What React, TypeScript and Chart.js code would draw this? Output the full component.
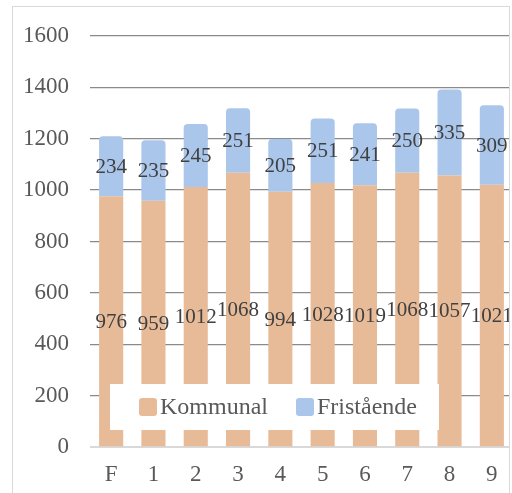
import React, { useEffect, useRef } from "react";
import { Chart, registerables } from "chart.js";

Chart.register(...registerables);

const categories = ["F", "1", "2", "3", "4", "5", "6", "7", "8", "9"];
const kommunal = [976, 959, 1012, 1068, 994, 1028, 1019, 1068, 1057, 1021];
const fristaende = [234, 235, 245, 251, 205, 251, 241, 250, 335, 309];
const seriesNames = ["Kommunal", "Fristående"];
const yTicks = { min: 0, max: 1600, step: 200 };

const FONT = '"Liberation Serif", "Times New Roman", serif';
const C_KOM = "#E8BB98";
const C_FRI = "#AAC6EA";

function roundRect(ctx: CanvasRenderingContext2D, x: number, y: number, w: number, h: number, r: number) {
  ctx.beginPath();
  ctx.moveTo(x + r, y);
  ctx.lineTo(x + w - r, y);
  ctx.quadraticCurveTo(x + w, y, x + w, y + r);
  ctx.lineTo(x + w, y + h - r);
  ctx.quadraticCurveTo(x + w, y + h, x + w - r, y + h);
  ctx.lineTo(x + r, y + h);
  ctx.quadraticCurveTo(x, y + h, x, y + h - r);
  ctx.lineTo(x, y + r);
  ctx.quadraticCurveTo(x, y, x + r, y);
  ctx.closePath();
}

const overlayPlugin = {
  id: "overlay",
  afterDatasetsDraw(chart: any) {
    const ctx: CanvasRenderingContext2D = chart.ctx;
    ctx.save();
    // legend box inside plot
    const lx = 110, ly = 384, lw = 329, lh = 46;
    ctx.fillStyle = "#ffffff";
    ctx.fillRect(lx, ly, lw, lh);
    ctx.font = `24px ${FONT}`;
    ctx.textBaseline = "middle";
    ctx.textAlign = "left";
    const items = [
      { x: 139, color: C_KOM, label: chart.data.datasets[0].label },
      { x: 296, color: C_FRI, label: chart.data.datasets[1].label },
    ];
    const cy = ly + lh / 2;
    items.forEach((it) => {
      ctx.fillStyle = it.color;
      roundRect(ctx, it.x, cy - 9, 18, 18, 3);
      ctx.fill();
      ctx.fillStyle = "#595959";
      ctx.fillText(it.label, it.x + 21, cy + 1);
    });
    // data labels
    ctx.font = `21px ${FONT}`;
    ctx.fillStyle = "#404040";
    ctx.textAlign = "center";
    ctx.textBaseline = "middle";
    chart.data.datasets.forEach((ds: any, di: number) => {
      const meta = chart.getDatasetMeta(di);
      meta.data.forEach((el: any, i: number) => {
        const y = (el.y + el.base) / 2;
        ctx.fillText(String(ds.data[i]), el.x, y + 1);
      });
    });
    ctx.restore();
  },
};

export default function App() {
  const ref = useRef<HTMLCanvasElement | null>(null);
  useEffect(() => {
    if (!ref.current) return;
    const chart = new Chart(ref.current, {
      type: "bar",
      data: {
        labels: categories,
        datasets: [
          {
            label: seriesNames[0],
            data: kommunal,
            backgroundColor: C_KOM,
            barPercentage: 0.57,
            categoryPercentage: 1,
          },
          {
            label: seriesNames[1],
            data: fristaende,
            backgroundColor: C_FRI,
            barPercentage: 0.57,
            categoryPercentage: 1,
            borderRadius: { topLeft: 4, topRight: 4, bottomLeft: 0, bottomRight: 0 },
            borderSkipped: false,
          },
        ],
      },
      options: {
        responsive: false,
        animation: false,
        devicePixelRatio: 1,
        layout: { padding: { top: 36, right: 7, left: 0, bottom: 0 } },
        plugins: { legend: { display: false }, tooltip: { enabled: false } },
        scales: {
          x: {
            stacked: true,
            grid: { display: false, drawTicks: false },
            border: { display: true, color: "#d9d9d9", width: 1 },
            ticks: { color: "#595959", font: { family: FONT, size: 23 }, padding: 14 },
            afterFit: (s: any) => {
              s.height = 53;
            },
          },
          y: {
            stacked: true,
            min: yTicks.min,
            max: yTicks.max,
            ticks: {
              stepSize: yTicks.step,
              color: "#595959",
              font: { family: FONT, size: 23 },
              padding: 21,
              callback: (v: any) => String(v),
            },
            grid: {
              drawTicks: false,
              color: (c: any) => (c.tick && c.tick.value === 0 ? "#d9d9d9" : "#8a8a8a"),
              lineWidth: 1.3,
            },
            border: { display: false },
            afterFit: (s: any) => {
              s.width = 90;
            },
          },
        },
      },
      plugins: [overlayPlugin],
    });
    return () => chart.destroy();
  }, []);
  return (
    <div
      style={{
        position: "fixed",
        left: 12,
        top: 6,
        width: 496,
        height: 490,
        border: "1px solid #d9d9d9",
        overflow: "hidden",
        background: "#fff",
      }}
    >
      <canvas
        ref={ref}
        width={520}
        height={500}
        style={{ position: "absolute", left: -13, top: -7, width: 520, height: 500 }}
      />
    </div>
  );
}
